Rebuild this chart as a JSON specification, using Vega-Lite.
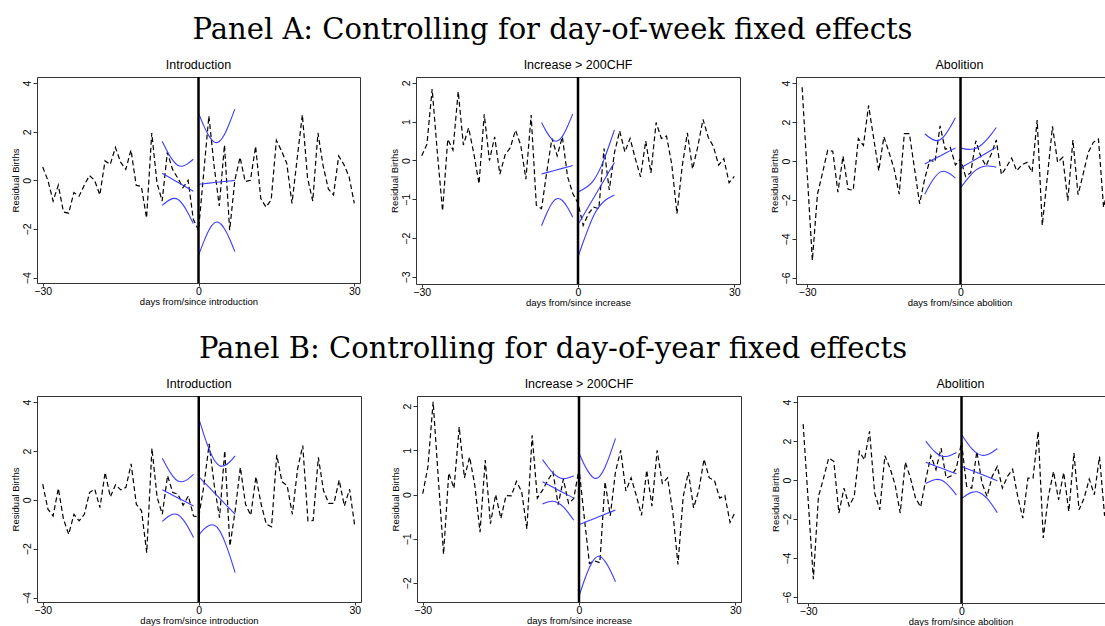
{
  "$schema": "https://vega.github.io/schema/vega-lite/v6.json",
  "background": "white",
  "padding": {"left": 9, "top": 15, "right": 0, "bottom": 0},
  "datasets": {
    "resid": [
      {"day": -31, "a3": 3.78, "b3": 2.87},
      {"day": -30, "a1": 0.55, "a2": 0.12, "a3": -0.66, "b1": 0.64, "b2": 0.02, "b3": -1.1},
      {"day": -29, "a1": 0.0, "a2": 0.42, "a3": -5.1, "b1": -0.38, "b2": 0.63, "b3": -5.08},
      {"day": -28, "a1": -0.85, "a2": 1.84, "a3": -1.7, "b1": -0.66, "b2": 2.1, "b3": -0.84},
      {"day": -27, "a1": -0.2, "a2": 0.2, "a3": -0.6, "b1": 0.47, "b2": 0.35, "b3": 0.1},
      {"day": -26, "a1": -1.3, "a2": -1.3, "a3": 0.55, "b1": -0.8, "b2": -1.35, "b3": 1.13},
      {"day": -25, "a1": -1.35, "a2": 0.55, "a3": 0.5, "b1": -1.41, "b2": 0.49, "b3": 0.96},
      {"day": -24, "a1": -0.5, "a2": 0.27, "a3": -1.6, "b1": -0.59, "b2": 0.14, "b3": -1.69},
      {"day": -23, "a1": -0.65, "a2": 1.78, "a3": 0.25, "b1": -0.86, "b2": 1.53, "b3": -0.41},
      {"day": -22, "a1": -0.2, "a2": 0.4, "a3": -1.45, "b1": -0.59, "b2": 0.38, "b3": -1.32},
      {"day": -21, "a1": 0.2, "a2": 0.84, "a3": -1.5, "b1": 0.3, "b2": 0.85, "b3": -0.84},
      {"day": -20, "a1": 0.0, "a2": 0.18, "a3": 1.15, "b1": 0.44, "b2": 0.21, "b3": 1.47},
      {"day": -19, "a1": -0.6, "a2": -0.6, "a3": 0.8, "b1": -0.32, "b2": -0.85, "b3": 1.04},
      {"day": -18, "a1": 0.8, "a2": 1.19, "a3": 2.85, "b1": 1.12, "b2": 0.78, "b3": 2.5},
      {"day": -17, "a1": 0.65, "a2": 0.0, "a3": 1.17, "b1": 0.12, "b2": -0.66, "b3": -0.67},
      {"day": -16, "a1": 1.35, "a2": 0.61, "a3": -0.5, "b1": 0.62, "b2": 0.0, "b3": -1.52},
      {"day": -15, "a1": 0.75, "a2": -0.35, "a3": 1.25, "b1": 0.41, "b2": -0.54, "b3": 1.25},
      {"day": -14, "a1": 0.45, "a2": 0.14, "a3": 0.45, "b1": 0.51, "b2": -0.02, "b3": 0.62},
      {"day": -13, "a1": 1.25, "a2": 0.33, "a3": -0.4, "b1": 1.47, "b2": -0.03, "b3": -0.24},
      {"day": -12, "a1": -0.2, "a2": 0.78, "a3": -1.7, "b1": -0.18, "b2": 0.3, "b3": -1.69},
      {"day": -11, "a1": -0.25, "a2": 0.4, "a3": 1.4, "b1": -0.45, "b2": 0.06, "b3": 0.92},
      {"day": -10, "a1": -1.55, "a2": -0.48, "a3": 1.4, "b1": -2.16, "b2": -0.78, "b3": 0.1},
      {"day": -9, "a1": 1.95, "a2": 1.17, "a3": -0.4, "b1": 2.11, "b2": 1.34, "b3": -0.92},
      {"day": -8, "a1": -0.1, "a2": -1.15, "a3": -2.2, "b1": 0.1, "b2": -0.08, "b3": -1.38},
      {"day": -7, "a1": -0.85, "a2": -1.24, "a3": -0.9, "b1": -0.59, "b2": 0.1, "b3": 0.02},
      {"day": -6, "a1": 1.15, "a2": -0.3, "a3": 0.05, "b1": 0.99, "b2": 0.32, "b3": 1.25},
      {"day": -5, "a1": 0.45, "a2": 0.57, "a3": -0.05, "b1": 0.3, "b2": 0.51, "b3": 0.53},
      {"day": -4, "a1": 0.1, "a2": 0.12, "a3": 1.8, "b1": 0.23, "b2": -0.23, "b3": 1.64},
      {"day": -3, "a1": -0.3, "a2": 0.61, "a3": 0.6, "b1": -0.22, "b2": 0.35, "b3": 0.1},
      {"day": -2, "a1": 0.0, "a2": -0.42, "a3": 0.7, "b1": 0.16, "b2": -0.2, "b3": 0.22},
      {"day": -1, "a1": -1.6, "a2": -0.85, "a3": -0.2, "b1": -0.66, "b2": -0.09, "b3": 0.62},
      {"day": 0, "a1": -2.05, "a2": -1.1, "a3": 0.1, "b1": -0.7, "b2": 0.59, "b3": 1.93},
      {"day": 1, "a1": 0.3, "a2": -1.67, "a3": -0.8, "b1": 0.6, "b2": -0.5, "b3": -0.32},
      {"day": 2, "a1": 2.65, "a2": -1.37, "a3": -0.6, "b1": 2.29, "b2": -1.56, "b3": -0.41},
      {"day": 3, "a1": 0.6, "a2": -1.2, "a3": 1.04, "b1": 0.58, "b2": -1.5, "b3": 1.47},
      {"day": 4, "a1": -1.05, "a2": -1.24, "a3": 0.2, "b1": -0.73, "b2": -1.54, "b3": -0.15},
      {"day": 5, "a1": 1.45, "a2": 0.31, "a3": -0.25, "b1": 2.01, "b2": 0.29, "b3": -0.84},
      {"day": 6, "a1": -2.05, "a2": -0.76, "a3": 0.35, "b1": -1.89, "b2": -0.48, "b3": 0.19},
      {"day": 7, "a1": 0.0, "a2": 0.2, "a3": 1.08, "b1": -0.45, "b2": 0.51, "b3": 0.7},
      {"day": 8, "a1": 0.95, "a2": 0.76, "a3": -0.7, "b1": 1.33, "b2": 1.0, "b3": -0.41},
      {"day": 9, "a1": -0.05, "a2": 0.22, "a3": -0.3, "b1": -0.18, "b2": 0.08, "b3": 0.19},
      {"day": 10, "a1": 0.0, "a2": 0.57, "a3": 0.15, "b1": -0.63, "b2": 0.38, "b3": 0.56},
      {"day": 11, "a1": 1.4, "a2": 0.05, "a3": -0.5, "b1": 0.95, "b2": -0.02, "b3": -0.84},
      {"day": 12, "a1": -0.75, "a2": -0.42, "a3": -0.2, "b1": -0.18, "b2": -0.47, "b3": -1.95},
      {"day": 13, "a1": -1.1, "a2": 0.5, "a3": -0.07, "b1": -1.0, "b2": 0.55, "b3": 0.1},
      {"day": 14, "a1": -0.8, "a2": -0.32, "a3": -0.58, "b1": -1.1, "b2": -0.26, "b3": 0.1},
      {"day": 15, "a1": 1.65, "a2": 0.98, "a3": 2.1, "b1": 1.84, "b2": 1.0, "b3": 2.5},
      {"day": 16, "a1": 1.2, "a2": 0.57, "a3": -3.3, "b1": 0.74, "b2": 0.25, "b3": -2.97},
      {"day": 17, "a1": 0.7, "a2": 0.63, "a3": -0.8, "b1": 0.58, "b2": 0.38, "b3": -0.84},
      {"day": 18, "a1": -0.95, "a2": -0.1, "a3": 1.78, "b1": -0.59, "b2": -0.39, "b3": 0.44},
      {"day": 19, "a1": 0.9, "a2": -1.37, "a3": -0.07, "b1": 1.26, "b2": -1.58, "b3": -1.01},
      {"day": 20, "a1": 2.7, "a2": -0.15, "a3": 0.19, "b1": 2.22, "b2": -0.05, "b3": 0.39},
      {"day": 21, "a1": 0.1, "a2": 0.71, "a3": -2.03, "b1": -0.86, "b2": 0.51, "b3": -1.61},
      {"day": 22, "a1": -0.85, "a2": -0.22, "a3": 1.08, "b1": -0.84, "b2": -0.3, "b3": 1.38},
      {"day": 23, "a1": 1.95, "a2": 0.36, "a3": -1.73, "b1": 1.74, "b2": 0.1, "b3": -1.52},
      {"day": 24, "a1": 0.6, "a2": 1.06, "a3": -0.67, "b1": 0.37, "b2": 0.8, "b3": -0.92},
      {"day": 25, "a1": -0.35, "a2": 0.6, "a3": 0.44, "b1": -0.14, "b2": 0.38, "b3": 0.05},
      {"day": 26, "a1": -0.6, "a2": 0.36, "a3": 0.96, "b1": -0.14, "b2": 0.32, "b3": -0.75},
      {"day": 27, "a1": 1.0, "a2": -0.12, "a3": 1.13, "b1": 0.81, "b2": -0.08, "b3": 1.21},
      {"day": 28, "a1": 0.65, "a2": 0.05, "a3": -2.38, "b1": -0.25, "b2": -0.02, "b3": -1.83},
      {"day": 29, "a1": 0.15, "a2": -0.57, "a3": -1.26, "b1": 0.44, "b2": -0.63, "b3": -0.8},
      {"day": 30, "a1": -0.95, "a2": -0.41, "a3": -0.9, "b1": -1.07, "b2": -0.39, "b3": -0.5}
    ],
    "fits": [
      {"p": "a1", "side": "pre", "day": -7, "fit": 0.29, "hi": 1.61, "lo": -1.03},
      {"p": "a1", "side": "pre", "day": -6, "fit": 0.167, "hi": 1.19, "lo": -0.86},
      {"p": "a1", "side": "pre", "day": -5, "fit": 0.043, "hi": 0.84, "lo": -0.75},
      {"p": "a1", "side": "pre", "day": -4, "fit": -0.08, "hi": 0.62, "lo": -0.78},
      {"p": "a1", "side": "pre", "day": -3, "fit": -0.203, "hi": 0.59, "lo": -1.0},
      {"p": "a1", "side": "pre", "day": -2, "fit": -0.327, "hi": 0.7, "lo": -1.35},
      {"p": "a1", "side": "pre", "day": -1, "fit": -0.45, "hi": 0.87, "lo": -1.77},
      {"p": "a1", "side": "post", "day": 0, "fit": -0.16, "hi": 2.77, "lo": -3.09},
      {"p": "a1", "side": "post", "day": 1, "fit": -0.137, "hi": 2.25, "lo": -2.53},
      {"p": "a1", "side": "post", "day": 2, "fit": -0.114, "hi": 1.83, "lo": -2.05},
      {"p": "a1", "side": "post", "day": 3, "fit": -0.091, "hi": 1.58, "lo": -1.76},
      {"p": "a1", "side": "post", "day": 4, "fit": -0.069, "hi": 1.6, "lo": -1.74},
      {"p": "a1", "side": "post", "day": 5, "fit": -0.046, "hi": 1.89, "lo": -1.99},
      {"p": "a1", "side": "post", "day": 6, "fit": -0.023, "hi": 2.37, "lo": -2.41},
      {"p": "a1", "side": "post", "day": 7, "fit": 0.0, "hi": 2.93, "lo": -2.93},
      {"p": "a2", "side": "pre", "day": -7, "fit": -0.35, "hi": 0.98, "lo": -1.68},
      {"p": "a2", "side": "pre", "day": -6, "fit": -0.313, "hi": 0.73, "lo": -1.36},
      {"p": "a2", "side": "pre", "day": -5, "fit": -0.277, "hi": 0.55, "lo": -1.1},
      {"p": "a2", "side": "pre", "day": -4, "fit": -0.24, "hi": 0.5, "lo": -0.98},
      {"p": "a2", "side": "pre", "day": -3, "fit": -0.203, "hi": 0.62, "lo": -1.03},
      {"p": "a2", "side": "pre", "day": -2, "fit": -0.167, "hi": 0.88, "lo": -1.21},
      {"p": "a2", "side": "pre", "day": -1, "fit": -0.13, "hi": 1.2, "lo": -1.46},
      {"p": "a2", "side": "post", "day": 0, "fit": -1.65, "hi": -0.81, "lo": -2.49},
      {"p": "a2", "side": "post", "day": 1, "fit": -1.421, "hi": -0.74, "lo": -2.1},
      {"p": "a2", "side": "post", "day": 2, "fit": -1.193, "hi": -0.65, "lo": -1.74},
      {"p": "a2", "side": "post", "day": 3, "fit": -0.964, "hi": -0.51, "lo": -1.42},
      {"p": "a2", "side": "post", "day": 4, "fit": -0.736, "hi": -0.28, "lo": -1.2},
      {"p": "a2", "side": "post", "day": 5, "fit": -0.507, "hi": 0.03, "lo": -1.05},
      {"p": "a2", "side": "post", "day": 6, "fit": -0.279, "hi": 0.4, "lo": -0.96},
      {"p": "a2", "side": "post", "day": 7, "fit": -0.05, "hi": 0.79, "lo": -0.89},
      {"p": "a3", "side": "pre", "day": -7, "fit": -0.15, "hi": 1.4, "lo": -1.7},
      {"p": "a3", "side": "pre", "day": -6, "fit": -0.013, "hi": 1.19, "lo": -1.22},
      {"p": "a3", "side": "pre", "day": -5, "fit": 0.123, "hi": 1.06, "lo": -0.82},
      {"p": "a3", "side": "pre", "day": -4, "fit": 0.26, "hi": 1.09, "lo": -0.57},
      {"p": "a3", "side": "pre", "day": -3, "fit": 0.397, "hi": 1.34, "lo": -0.54},
      {"p": "a3", "side": "pre", "day": -2, "fit": 0.533, "hi": 1.74, "lo": -0.67},
      {"p": "a3", "side": "pre", "day": -1, "fit": 0.67, "hi": 2.22, "lo": -0.88},
      {"p": "a3", "side": "post", "day": 0, "fit": -0.36, "hi": 0.66, "lo": -1.38},
      {"p": "a3", "side": "post", "day": 1, "fit": -0.209, "hi": 0.61, "lo": -1.03},
      {"p": "a3", "side": "post", "day": 2, "fit": -0.057, "hi": 0.6, "lo": -0.72},
      {"p": "a3", "side": "post", "day": 3, "fit": 0.094, "hi": 0.66, "lo": -0.47},
      {"p": "a3", "side": "post", "day": 4, "fit": 0.246, "hi": 0.81, "lo": -0.32},
      {"p": "a3", "side": "post", "day": 5, "fit": 0.397, "hi": 1.06, "lo": -0.26},
      {"p": "a3", "side": "post", "day": 6, "fit": 0.549, "hi": 1.37, "lo": -0.27},
      {"p": "a3", "side": "post", "day": 7, "fit": 0.7, "hi": 1.72, "lo": -0.32},
      {"p": "b1", "side": "pre", "day": -7, "fit": 0.41, "hi": 1.7, "lo": -0.88},
      {"p": "b1", "side": "pre", "day": -6, "fit": 0.3, "hi": 1.3, "lo": -0.7},
      {"p": "b1", "side": "pre", "day": -5, "fit": 0.19, "hi": 0.97, "lo": -0.59},
      {"p": "b1", "side": "pre", "day": -4, "fit": 0.08, "hi": 0.77, "lo": -0.61},
      {"p": "b1", "side": "pre", "day": -3, "fit": -0.03, "hi": 0.75, "lo": -0.81},
      {"p": "b1", "side": "pre", "day": -2, "fit": -0.14, "hi": 0.86, "lo": -1.14},
      {"p": "b1", "side": "pre", "day": -1, "fit": -0.25, "hi": 1.04, "lo": -1.54},
      {"p": "b1", "side": "post", "day": 0, "fit": 0.95, "hi": 3.34, "lo": -1.44},
      {"p": "b1", "side": "post", "day": 1, "fit": 0.73, "hi": 2.66, "lo": -1.2},
      {"p": "b1", "side": "post", "day": 2, "fit": 0.51, "hi": 2.07, "lo": -1.05},
      {"p": "b1", "side": "post", "day": 3, "fit": 0.29, "hi": 1.62, "lo": -1.04},
      {"p": "b1", "side": "post", "day": 4, "fit": 0.07, "hi": 1.4, "lo": -1.26},
      {"p": "b1", "side": "post", "day": 5, "fit": -0.15, "hi": 1.41, "lo": -1.71},
      {"p": "b1", "side": "post", "day": 6, "fit": -0.37, "hi": 1.56, "lo": -2.3},
      {"p": "b1", "side": "post", "day": 7, "fit": -0.59, "hi": 1.8, "lo": -2.98},
      {"p": "b2", "side": "pre", "day": -7, "fit": 0.29, "hi": 0.79, "lo": -0.21},
      {"p": "b2", "side": "pre", "day": -6, "fit": 0.228, "hi": 0.63, "lo": -0.17},
      {"p": "b2", "side": "pre", "day": -5, "fit": 0.167, "hi": 0.49, "lo": -0.15},
      {"p": "b2", "side": "pre", "day": -4, "fit": 0.105, "hi": 0.4, "lo": -0.19},
      {"p": "b2", "side": "pre", "day": -3, "fit": 0.043, "hi": 0.36, "lo": -0.28},
      {"p": "b2", "side": "pre", "day": -2, "fit": -0.018, "hi": 0.38, "lo": -0.42},
      {"p": "b2", "side": "pre", "day": -1, "fit": -0.08, "hi": 0.42, "lo": -0.58},
      {"p": "b2", "side": "post", "day": 0, "fit": -0.68, "hi": 0.94, "lo": -2.3},
      {"p": "b2", "side": "post", "day": 1, "fit": -0.633, "hi": 0.68, "lo": -1.95},
      {"p": "b2", "side": "post", "day": 2, "fit": -0.586, "hi": 0.48, "lo": -1.65},
      {"p": "b2", "side": "post", "day": 3, "fit": -0.539, "hi": 0.37, "lo": -1.45},
      {"p": "b2", "side": "post", "day": 4, "fit": -0.491, "hi": 0.42, "lo": -1.4},
      {"p": "b2", "side": "post", "day": 5, "fit": -0.444, "hi": 0.62, "lo": -1.51},
      {"p": "b2", "side": "post", "day": 6, "fit": -0.397, "hi": 0.92, "lo": -1.71},
      {"p": "b2", "side": "post", "day": 7, "fit": -0.35, "hi": 1.27, "lo": -1.97},
      {"p": "b3", "side": "pre", "day": -7, "fit": 0.91, "hi": 2.0, "lo": -0.18},
      {"p": "b3", "side": "pre", "day": -6, "fit": 0.812, "hi": 1.67, "lo": -0.05},
      {"p": "b3", "side": "pre", "day": -5, "fit": 0.713, "hi": 1.4, "lo": 0.03},
      {"p": "b3", "side": "pre", "day": -4, "fit": 0.615, "hi": 1.24, "lo": 0.0},
      {"p": "b3", "side": "pre", "day": -3, "fit": 0.517, "hi": 1.21, "lo": -0.17},
      {"p": "b3", "side": "pre", "day": -2, "fit": 0.418, "hi": 1.28, "lo": -0.44},
      {"p": "b3", "side": "pre", "day": -1, "fit": 0.32, "hi": 1.41, "lo": -0.77},
      {"p": "b3", "side": "post", "day": 0, "fit": 0.7, "hi": 2.34, "lo": -0.94},
      {"p": "b3", "side": "post", "day": 1, "fit": 0.596, "hi": 1.95, "lo": -0.76},
      {"p": "b3", "side": "post", "day": 2, "fit": 0.491, "hi": 1.61, "lo": -0.63},
      {"p": "b3", "side": "post", "day": 3, "fit": 0.387, "hi": 1.38, "lo": -0.6},
      {"p": "b3", "side": "post", "day": 4, "fit": 0.283, "hi": 1.27, "lo": -0.71},
      {"p": "b3", "side": "post", "day": 5, "fit": 0.179, "hi": 1.3, "lo": -0.94},
      {"p": "b3", "side": "post", "day": 6, "fit": 0.074, "hi": 1.43, "lo": -1.28},
      {"p": "b3", "side": "post", "day": 7, "fit": -0.03, "hi": 1.61, "lo": -1.67}
    ]
  },
  "spacing": 26,
  "vconcat": [
    {
      "title": {"text": "Panel A: Controlling for day-of-week fixed effects", "font": "DejaVu Serif", "fontSize": 29, "fontWeight": "normal", "color": "black", "anchor": "middle", "offset": 14, "dx": -14},
      "spacing": 27,
      "hconcat": [
        {
          "width": 323, "height": 206,
          "title": {"text": "Introduction", "font": "Liberation Sans", "fontSize": 12.5, "fontWeight": "normal", "color": "black", "offset": 4},
          "layer": [
            {"data": {"name": "resid"}, "mark": {"type": "line", "color": "black", "strokeWidth": 1.2, "strokeDash": [5, 3]},
             "encoding": {
               "x": {"field": "day", "type": "quantitative", "scale": {"domain": [-31.1, 31.1], "nice": false, "zero": false}, "axis": {"values": [-30, 0, 30], "title": "days from/since introduction"}},
               "y": {"field": "a1", "type": "quantitative", "scale": {"domain": [-4.22, 4.25], "nice": false, "zero": false}, "axis": {"values": [-4, -2, 0, 2, 4], "title": "Residual Births"}}}},
            {"data": {"name": "fits"}, "transform": [{"filter": "datum.p === 'a1'"}], "mark": {"type": "line", "color": "#3c3cff", "strokeWidth": 1.1, "interpolate": "natural"},
             "encoding": {"x": {"field": "day", "type": "quantitative"}, "y": {"field": "hi", "type": "quantitative"}, "detail": {"field": "side"}}},
            {"data": {"name": "fits"}, "transform": [{"filter": "datum.p === 'a1'"}], "mark": {"type": "line", "color": "#3c3cff", "strokeWidth": 1.1, "interpolate": "natural"},
             "encoding": {"x": {"field": "day", "type": "quantitative"}, "y": {"field": "lo", "type": "quantitative"}, "detail": {"field": "side"}}},
            {"data": {"name": "fits"}, "transform": [{"filter": "datum.p === 'a1'"}], "mark": {"type": "line", "color": "#3c3cff", "strokeWidth": 1.1},
             "encoding": {"x": {"field": "day", "type": "quantitative"}, "y": {"field": "fit", "type": "quantitative"}, "detail": {"field": "side"}}},
            {"data": {"values": [{}]}, "mark": {"type": "rule", "color": "black", "strokeWidth": 2.5}, "encoding": {"x": {"datum": 0}}}
          ]
        },
        {
          "width": 324, "height": 207,
          "title": {"text": "Increase > 200CHF", "font": "Liberation Sans", "fontSize": 12.5, "fontWeight": "normal", "color": "black", "offset": 4},
          "layer": [
            {"data": {"name": "resid"}, "mark": {"type": "line", "color": "black", "strokeWidth": 1.2, "strokeDash": [5, 3]},
             "encoding": {
               "x": {"field": "day", "type": "quantitative", "scale": {"domain": [-31.1, 31.1], "nice": false, "zero": false}, "axis": {"values": [-30, 0, 30], "title": "days from/since increase"}},
               "y": {"field": "a2", "type": "quantitative", "scale": {"domain": [-3.18, 2.15], "nice": false, "zero": false}, "axis": {"values": [-3, -2, -1, 0, 1, 2], "title": "Residual Births"}}}},
            {"data": {"name": "fits"}, "transform": [{"filter": "datum.p === 'a2'"}], "mark": {"type": "line", "color": "#3c3cff", "strokeWidth": 1.1, "interpolate": "natural"},
             "encoding": {"x": {"field": "day", "type": "quantitative"}, "y": {"field": "hi", "type": "quantitative"}, "detail": {"field": "side"}}},
            {"data": {"name": "fits"}, "transform": [{"filter": "datum.p === 'a2'"}], "mark": {"type": "line", "color": "#3c3cff", "strokeWidth": 1.1, "interpolate": "natural"},
             "encoding": {"x": {"field": "day", "type": "quantitative"}, "y": {"field": "lo", "type": "quantitative"}, "detail": {"field": "side"}}},
            {"data": {"name": "fits"}, "transform": [{"filter": "datum.p === 'a2'"}], "mark": {"type": "line", "color": "#3c3cff", "strokeWidth": 1.1},
             "encoding": {"x": {"field": "day", "type": "quantitative"}, "y": {"field": "fit", "type": "quantitative"}, "detail": {"field": "side"}}},
            {"data": {"values": [{}]}, "mark": {"type": "rule", "color": "black", "strokeWidth": 2.5}, "encoding": {"x": {"datum": 0}}}
          ]
        },
        {
          "width": 327, "height": 207,
          "title": {"text": "Abolition", "font": "Liberation Sans", "fontSize": 12.5, "fontWeight": "normal", "color": "black", "offset": 4},
          "layer": [
            {"data": {"name": "resid"}, "mark": {"type": "line", "color": "black", "strokeWidth": 1.2, "strokeDash": [5, 3]},
             "encoding": {
               "x": {"field": "day", "type": "quantitative", "scale": {"domain": [-32.2, 31.8], "nice": false, "zero": false}, "axis": {"values": [-30, 0, 30], "title": "days from/since abolition"}},
               "y": {"field": "a3", "type": "quantitative", "scale": {"domain": [-6.31, 4.31], "nice": false, "zero": false}, "axis": {"values": [-6, -4, -2, 0, 2, 4], "title": "Residual Births"}}}},
            {"data": {"name": "fits"}, "transform": [{"filter": "datum.p === 'a3'"}], "mark": {"type": "line", "color": "#3c3cff", "strokeWidth": 1.1, "interpolate": "natural"},
             "encoding": {"x": {"field": "day", "type": "quantitative"}, "y": {"field": "hi", "type": "quantitative"}, "detail": {"field": "side"}}},
            {"data": {"name": "fits"}, "transform": [{"filter": "datum.p === 'a3'"}], "mark": {"type": "line", "color": "#3c3cff", "strokeWidth": 1.1, "interpolate": "natural"},
             "encoding": {"x": {"field": "day", "type": "quantitative"}, "y": {"field": "lo", "type": "quantitative"}, "detail": {"field": "side"}}},
            {"data": {"name": "fits"}, "transform": [{"filter": "datum.p === 'a3'"}], "mark": {"type": "line", "color": "#3c3cff", "strokeWidth": 1.1},
             "encoding": {"x": {"field": "day", "type": "quantitative"}, "y": {"field": "fit", "type": "quantitative"}, "detail": {"field": "side"}}},
            {"data": {"values": [{}]}, "mark": {"type": "rule", "color": "black", "strokeWidth": 2.5}, "encoding": {"x": {"datum": 0}}}
          ]
        }
      ]
    },
    {
      "title": {"text": "Panel B: Controlling for day-of-year fixed effects", "font": "DejaVu Serif", "fontSize": 29, "fontWeight": "normal", "color": "black", "anchor": "middle", "offset": 14, "dx": -14},
      "spacing": 27,
      "hconcat": [
        {
          "width": 324, "height": 206,
          "title": {"text": "Introduction", "font": "Liberation Sans", "fontSize": 12.5, "fontWeight": "normal", "color": "black", "offset": 4},
          "layer": [
            {"data": {"name": "resid"}, "mark": {"type": "line", "color": "black", "strokeWidth": 1.2, "strokeDash": [5, 3]},
             "encoding": {
               "x": {"field": "day", "type": "quantitative", "scale": {"domain": [-31.1, 31.2], "nice": false, "zero": false}, "axis": {"values": [-30, 0, 30], "title": "days from/since introduction"}},
               "y": {"field": "b1", "type": "quantitative", "scale": {"domain": [-4.18, 4.25], "nice": false, "zero": false}, "axis": {"values": [-4, -2, 0, 2, 4], "title": "Residual Births"}}}},
            {"data": {"name": "fits"}, "transform": [{"filter": "datum.p === 'b1'"}], "mark": {"type": "line", "color": "#3c3cff", "strokeWidth": 1.1, "interpolate": "natural"},
             "encoding": {"x": {"field": "day", "type": "quantitative"}, "y": {"field": "hi", "type": "quantitative"}, "detail": {"field": "side"}}},
            {"data": {"name": "fits"}, "transform": [{"filter": "datum.p === 'b1'"}], "mark": {"type": "line", "color": "#3c3cff", "strokeWidth": 1.1, "interpolate": "natural"},
             "encoding": {"x": {"field": "day", "type": "quantitative"}, "y": {"field": "lo", "type": "quantitative"}, "detail": {"field": "side"}}},
            {"data": {"name": "fits"}, "transform": [{"filter": "datum.p === 'b1'"}], "mark": {"type": "line", "color": "#3c3cff", "strokeWidth": 1.1},
             "encoding": {"x": {"field": "day", "type": "quantitative"}, "y": {"field": "fit", "type": "quantitative"}, "detail": {"field": "side"}}},
            {"data": {"values": [{}]}, "mark": {"type": "rule", "color": "black", "strokeWidth": 2.5}, "encoding": {"x": {"datum": 0}}}
          ]
        },
        {
          "width": 324, "height": 206,
          "title": {"text": "Increase > 200CHF", "font": "Liberation Sans", "fontSize": 12.5, "fontWeight": "normal", "color": "black", "offset": 4},
          "layer": [
            {"data": {"name": "resid"}, "mark": {"type": "line", "color": "black", "strokeWidth": 1.2, "strokeDash": [5, 3]},
             "encoding": {
               "x": {"field": "day", "type": "quantitative", "scale": {"domain": [-31.1, 31.1], "nice": false, "zero": false}, "axis": {"values": [-30, 0, 30], "title": "days from/since increase"}},
               "y": {"field": "b2", "type": "quantitative", "scale": {"domain": [-2.43, 2.23], "nice": false, "zero": false}, "axis": {"values": [-2, -1, 0, 1, 2], "title": "Residual Births"}}}},
            {"data": {"name": "fits"}, "transform": [{"filter": "datum.p === 'b2'"}], "mark": {"type": "line", "color": "#3c3cff", "strokeWidth": 1.1, "interpolate": "natural"},
             "encoding": {"x": {"field": "day", "type": "quantitative"}, "y": {"field": "hi", "type": "quantitative"}, "detail": {"field": "side"}}},
            {"data": {"name": "fits"}, "transform": [{"filter": "datum.p === 'b2'"}], "mark": {"type": "line", "color": "#3c3cff", "strokeWidth": 1.1, "interpolate": "natural"},
             "encoding": {"x": {"field": "day", "type": "quantitative"}, "y": {"field": "lo", "type": "quantitative"}, "detail": {"field": "side"}}},
            {"data": {"name": "fits"}, "transform": [{"filter": "datum.p === 'b2'"}], "mark": {"type": "line", "color": "#3c3cff", "strokeWidth": 1.1},
             "encoding": {"x": {"field": "day", "type": "quantitative"}, "y": {"field": "fit", "type": "quantitative"}, "detail": {"field": "side"}}},
            {"data": {"values": [{}]}, "mark": {"type": "rule", "color": "black", "strokeWidth": 2.5}, "encoding": {"x": {"datum": 0}}}
          ]
        },
        {
          "width": 327, "height": 207,
          "title": {"text": "Abolition", "font": "Liberation Sans", "fontSize": 12.5, "fontWeight": "normal", "color": "black", "offset": 4},
          "layer": [
            {"data": {"name": "resid"}, "mark": {"type": "line", "color": "black", "strokeWidth": 1.2, "strokeDash": [5, 3]},
             "encoding": {
               "x": {"field": "day", "type": "quantitative", "scale": {"domain": [-32.2, 31.8], "nice": false, "zero": false}, "axis": {"values": [-30, 0, 30], "title": "days from/since abolition"}},
               "y": {"field": "b3", "type": "quantitative", "scale": {"domain": [-6.3, 4.31], "nice": false, "zero": false}, "axis": {"values": [-6, -4, -2, 0, 2, 4], "title": "Residual Births"}}}},
            {"data": {"name": "fits"}, "transform": [{"filter": "datum.p === 'b3'"}], "mark": {"type": "line", "color": "#3c3cff", "strokeWidth": 1.1, "interpolate": "natural"},
             "encoding": {"x": {"field": "day", "type": "quantitative"}, "y": {"field": "hi", "type": "quantitative"}, "detail": {"field": "side"}}},
            {"data": {"name": "fits"}, "transform": [{"filter": "datum.p === 'b3'"}], "mark": {"type": "line", "color": "#3c3cff", "strokeWidth": 1.1, "interpolate": "natural"},
             "encoding": {"x": {"field": "day", "type": "quantitative"}, "y": {"field": "lo", "type": "quantitative"}, "detail": {"field": "side"}}},
            {"data": {"name": "fits"}, "transform": [{"filter": "datum.p === 'b3'"}], "mark": {"type": "line", "color": "#3c3cff", "strokeWidth": 1.1},
             "encoding": {"x": {"field": "day", "type": "quantitative"}, "y": {"field": "fit", "type": "quantitative"}, "detail": {"field": "side"}}},
            {"data": {"values": [{}]}, "mark": {"type": "rule", "color": "black", "strokeWidth": 2.5}, "encoding": {"x": {"datum": 0}}}
          ]
        }
      ]
    }
  ],
  "config": {
    "view": {"stroke": "#333333", "strokeWidth": 1},
    "axis": {"grid": false, "domain": false, "tickColor": "#333333", "tickSize": 4, "tickWidth": 1, "labelFont": "Liberation Sans", "labelFontSize": 10.5, "labelColor": "black", "labelPadding": 1, "titleFont": "Liberation Sans", "titleFontSize": 9.5, "titleFontWeight": "normal", "titleColor": "black", "titlePadding": 1},
    "axisY": {"labelAngle": -90, "labelAlign": "center", "labelBaseline": "bottom", "titlePadding": 2},
    "axisX": {"labelFlush": false, "tickSize": 3, "labelPadding": 0, "titlePadding": 0}
  }
}
